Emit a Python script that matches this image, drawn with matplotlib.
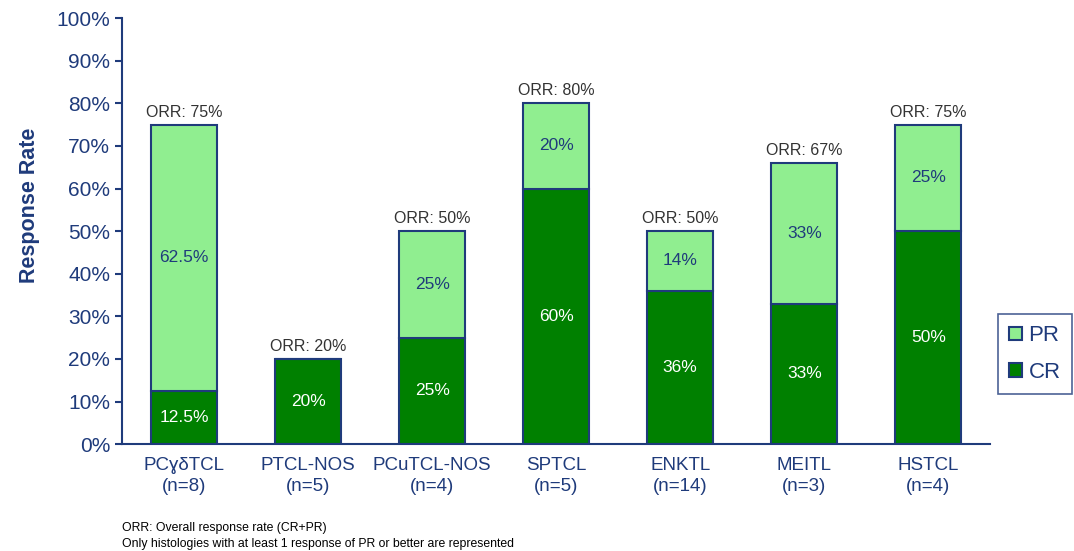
import numpy as np
import matplotlib.pyplot as plt
from matplotlib.ticker import FuncFormatter

plt.rcParams['font.family'] = ['Liberation Sans', 'DejaVu Sans']

# Response by histology
categories = ['PCɣδTCL', 'PTCL-NOS', 'PCuTCL-NOS', 'SPTCL', 'ENKTL', 'MEITL', 'HSTCL']
n_patients = [8, 5, 4, 5, 14, 3, 4]
cr = [12.5, 20, 25, 60, 36, 33, 50]
pr = [62.5, 0, 25, 20, 14, 33, 25]
orr = [75, 20, 50, 80, 50, 67, 75]

navy = '#1F3B7B'
cr_color = '#008000'
pr_color = '#90EE90'

fig = plt.figure(figsize=(10.74, 5.51), dpi=100)
ax = fig.add_axes([0.1136, 0.194, 0.8085, 0.773])

x = np.arange(len(categories))
width = 0.53

ax.bar(x, cr, width, color=cr_color, edgecolor=navy, linewidth=1.5, label='CR', zorder=2)
ax.bar(x, pr, width, bottom=cr, color=pr_color, edgecolor=navy, linewidth=1.5, label='PR', zorder=2)

def fmt(v):
    return f'{v:g}%'

for i in range(len(categories)):
    ax.text(x[i], cr[i] / 2, fmt(cr[i]), ha='center', va='center',
            color='white', fontsize=12.5)
    if pr[i] > 0:
        ax.text(x[i], cr[i] + pr[i] / 2, fmt(pr[i]), ha='center', va='center',
                color=navy, fontsize=12.5)
    ax.text(x[i], cr[i] + pr[i] + 1.2, f'ORR: {orr[i]}%', ha='center', va='bottom',
            color='#333333', fontsize=11.5)

ax.set_xlim(-0.5, len(categories) - 0.5)
ax.set_ylim(0, 100)
ax.set_yticks(np.arange(0, 101, 10))
ax.yaxis.set_major_formatter(FuncFormatter(lambda v, p: f'{v:.0f}%'))
ax.tick_params(axis='y', colors=navy, labelsize=15, length=5, width=1.5, direction='out')
ax.tick_params(axis='x', length=0, labelsize=13.5, colors=navy, pad=9)
ax.set_xticks(x)
ax.set_xticklabels([f'{c}\n(n={n})' for c, n in zip(categories, n_patients)])
for lbl in ax.get_xticklabels():
    lbl.set_linespacing(1.35)

for side in ['top', 'right']:
    ax.spines[side].set_visible(False)
for side in ['left', 'bottom']:
    ax.spines[side].set_color(navy)
    ax.spines[side].set_linewidth(1.5)

fig.text(30 / 1074, 1 - 205 / 551, 'Response Rate', rotation=90, ha='center', va='center',
         fontsize=15.5, fontweight='bold', color=navy)

handles, labels = ax.get_legend_handles_labels()
leg = fig.legend(handles[::-1], labels[::-1], loc='center', bbox_to_anchor=(1035 / 1074, 1 - 354 / 551),
                 fontsize=16, frameon=True, fancybox=False, handlelength=0.55, handleheight=0.55,
                 handletextpad=0.3, labelspacing=0.7, borderpad=0.5, labelcolor=navy)
leg.get_frame().set_edgecolor(navy)
leg.get_frame().set_linewidth(1.2)

fig.text(122 / 1074, 1 - 528 / 551, 'ORR: Overall response rate (CR+PR)', fontsize=8.8,
         va='center', ha='left', color='black')
fig.text(122 / 1074, 1 - 544 / 551, 'Only histologies with at least 1 response of PR or better are represented',
         fontsize=8.8, va='center', ha='left', color='black')

fig.savefig('out.png', dpi=100)
